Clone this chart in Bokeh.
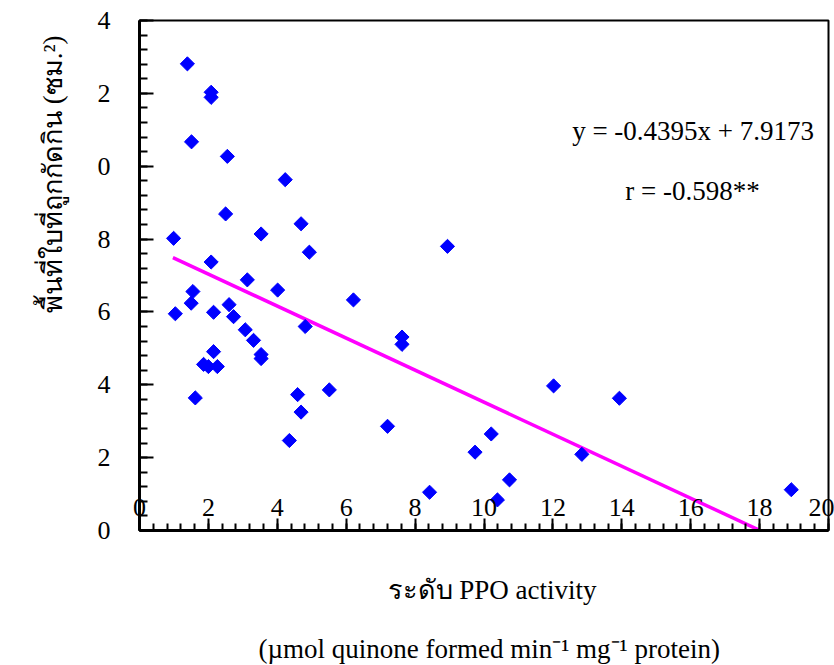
import math
from bokeh.plotting import figure
from bokeh.models import Range1d, FixedTicker, Label, Title
from bokeh.embed import file_html
from bokeh.resources import INLINE

# PPO activity (x) and leaf area eaten (y)
ppo = [1.39, 2.08, 2.08, 1.51, 2.55, 4.23, 2.50, 4.69, 3.53, 0.99,
       4.93, 8.94, 2.08, 3.13, 4.01, 1.55, 1.50, 6.21, 2.60, 2.15,
       2.73, 1.04, 4.81, 3.07, 3.31, 7.62, 7.62, 3.53, 3.53, 2.15,
       1.86, 2.00, 2.26, 5.51, 4.59, 12.02, 13.93, 1.62, 4.69, 7.20,
       4.35, 10.21, 9.74, 12.84, 10.74, 8.42, 10.39, 18.92]
area = [12.81, 12.03, 11.89, 10.67, 10.27, 9.63, 8.69, 8.42, 8.14, 8.02,
        7.64, 7.80, 7.37, 6.88, 6.60, 6.56, 6.24, 6.33, 6.20, 5.99,
        5.87, 5.95, 5.60, 5.51, 5.22, 5.31, 5.11, 4.83, 4.72, 4.91,
        4.56, 4.50, 4.50, 3.86, 3.73, 3.97, 3.63, 3.64, 3.25, 2.86,
        2.47, 2.65, 2.15, 2.09, 1.39, 1.05, 0.84, 1.12]

slope = -0.4395
intercept = 7.9173
fit_x = [0.97, 18.05]
fit_y = [intercept + slope * x for x in fit_x]

x_ticks = [0, 2, 4, 6, 8, 10, 12, 14, 16, 18, 20]
y_ticks = [0, 2, 4, 6, 8, 10, 12, 14]
y_tick_labels = ["0", "2", "4", "6", "8", "0", "2", "4"]
minor_step = 0.4

eq_text = "y = -0.4395x + 7.9173"
r_text = "r = -0.598**"
x_title_1 = "ระดับ PPO activity"
x_title_2 = "(µmol quinone formed min⁻¹ mg⁻¹ protein)"
y_title = "พื้นที่ใบที่ถูกกัดกิน (ซม.²)"

FONT = "Liberation Serif"

p = figure(width=834, height=665, output_backend="svg", toolbar_location=None,
           x_range=Range1d(0, 20), y_range=Range1d(0, 14),
           min_border_left=139, min_border_right=6,
           min_border_top=20, min_border_bottom=135)
p.grid.visible = False
p.outline_line_color = "black"
p.outline_line_width = 2
p.background_fill_color = "white"
p.border_fill_color = "white"

minor_x = [round(i * minor_step, 2) for i in range(int(20 / minor_step) + 1)]
minor_y = [round(i * minor_step, 2) for i in range(int(14 / minor_step) + 1)]

xa = p.xaxis[0]
xa.ticker = FixedTicker(ticks=x_ticks, minor_ticks=minor_x)
xa.axis_line_width = 3
xa.major_tick_in = 12
xa.major_tick_out = 0
xa.minor_tick_in = 7
xa.minor_tick_out = 0
xa.major_tick_line_width = 2
xa.minor_tick_line_width = 2
xa.major_label_standoff = -32
xa.major_label_text_font = FONT
xa.major_label_text_font_size = "26px"
xa.major_label_text_color = "black"

ya = p.yaxis[0]
ya.ticker = FixedTicker(ticks=y_ticks, minor_ticks=minor_y)
ya.major_label_overrides = {t: lab for t, lab in zip(y_ticks, y_tick_labels)}
ya.axis_line_width = 3
ya.major_tick_in = 14
ya.major_tick_out = 0
ya.minor_tick_in = 8
ya.minor_tick_out = 0
ya.major_tick_line_width = 2
ya.minor_tick_line_width = 2
ya.major_label_standoff = 29
ya.major_label_text_font = FONT
ya.major_label_text_font_size = "26px"
ya.major_label_text_color = "black"

p.line(fit_x, fit_y, line_color="#FF00FF", line_width=3.5)
p.scatter(ppo, area, marker="square", angle=math.pi / 4, size=10,
          fill_color="#0000FF", line_color="#0000FF")

def add_label(x, y, text):
    p.add_layout(Label(x=x, y=y, text=text,
                       text_font=FONT, text_font_size="27px",
                       text_align="center", text_baseline="middle",
                       text_color="black"))

add_label(16.07, 10.98, eq_text)
add_label(16.05, 9.33, r_text)

t1 = Title(text=x_title_1, align="left", offset=248, standoff=84,
           text_font=FONT, text_font_size="27px", text_font_style="normal",
           text_color="black")
t2 = Title(text=x_title_2, align="left", offset=119, standoff=-30,
           text_font=FONT, text_font_size="27px", text_font_style="normal",
           text_color="black")
p.add_layout(t1, "below")
p.add_layout(t2, "below")

ty = Title(text=y_title, align="right", offset=15, standoff=54,
           text_font=FONT, text_font_size="27px", text_font_style="normal",
           text_color="black")
p.add_layout(ty, "left")

open("out.html", "w").write(file_html(p, INLINE))
